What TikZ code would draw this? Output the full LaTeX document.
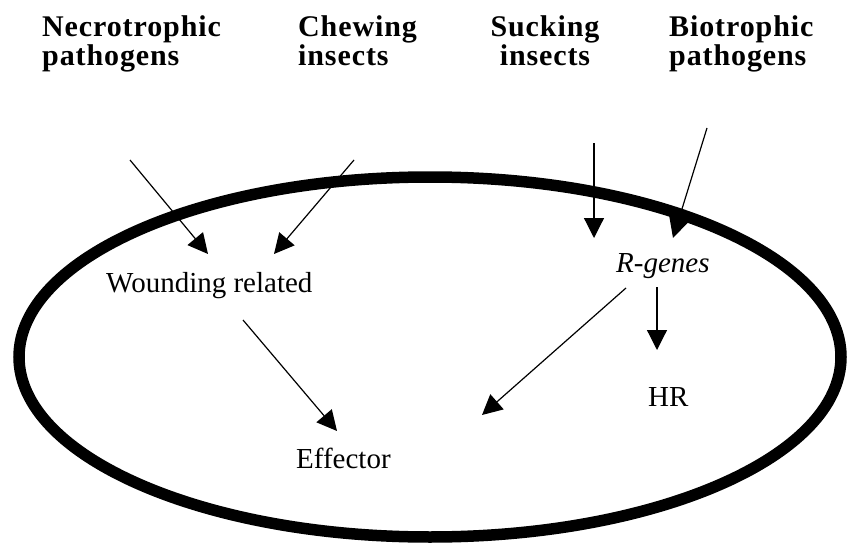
\documentclass[tikz,border=0pt]{standalone}
\usepackage{fontspec}
\setmainfont{Liberation Serif}
\usetikzlibrary{arrows.meta}

\tikzstyle{header} = [font=\fontsize{30}{29}\selectfont\bfseries\addfontfeatures{LetterSpace=3},
    align=left, inner sep=0pt, anchor=base west]
\tikzstyle{term} = [font=\fontsize{29}{32}\selectfont,
    inner sep=0pt, anchor=base west]
\tikzstyle{signal} = [line width=1.2pt, -{Triangle[length=20pt, width=20pt]}]

\begin{document}
\begin{tikzpicture}[x=1pt, y=-1pt]
    \useasboundingbox (0,0) rectangle (847,546);
%------------ Zelle ---------------------
    \draw[line width=11.5pt] (430,357) ellipse [x radius=411, y radius=180];
%------------ Angreifer ---------------------
    \node[header] (necro) at (42,65) {Necrotrophic\\pathogens};
    \node[header] (chew) at (298,65) {Chewing\\insects};
    \node[header, align=center, anchor=base] (suck) at (545,65) {Sucking\\insects};
    \node[header] (bio) at (669,65) {Biotrophic\\pathogens};
%------------ Reaktionen in der Zelle ---------------------
    \node[term] (wound) at (106,292) {Wounding related};
    \node[term] (rgenes) at (616,272) {\itshape R-genes};
    \node[term] (hr) at (648,406) {HR};
    \node[term] (effector) at (296,468) {Effector};
%------------ Pfeilenden ---------------------
    \coordinate (necro-in) at (130,160);
    \coordinate (chew-in) at (354,160);
    \coordinate (suck-in) at (594,143);
    \coordinate (bio-in) at (707,128);
    \coordinate (wound-l) at (208,254);
    \coordinate (wound-r) at (274,254);
    \coordinate (wound-out) at (243,320);
    \coordinate (rgenes-l) at (594,238);
    \coordinate (rgenes-r) at (673,238);
    \coordinate (rgenes-out) at (626,288);
    \coordinate (rgenes-down) at (657,287);
    \coordinate (hr-in) at (657,350);
    \coordinate (effector-l) at (337,431);
    \coordinate (effector-r) at (482,415);
%------------ Signalwege ---------------------
    \draw[signal] (necro-in) -- (wound-l);
    \draw[signal] (chew-in) -- (wound-r);
    \draw[signal] (suck-in) -- (rgenes-l);
    \draw[signal] (bio-in) -- (rgenes-r);
    \draw[signal] (wound-out) -- (effector-l);
    \draw[signal] (rgenes-out) -- (effector-r);
    \draw[signal] (rgenes-down) -- (hr-in);
\end{tikzpicture}
\end{document}
